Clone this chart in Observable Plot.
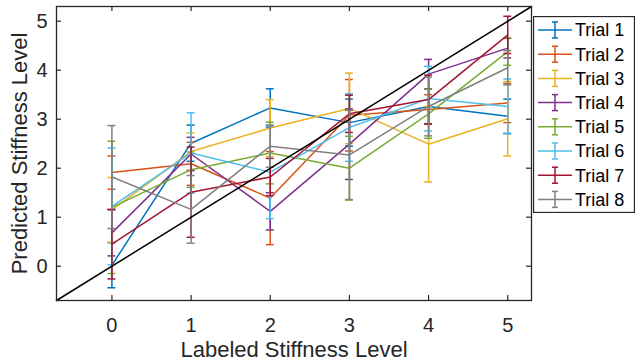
<!DOCTYPE html>
<html><head><meta charset="utf-8">
<script src="https://cdn.jsdelivr.net/npm/d3@7"></script>
<script src="https://cdn.jsdelivr.net/npm/@observablehq/plot@0.6"></script>
<style>
body{margin:0;background:#fff;}
#wrap{position:relative;width:641px;height:360px;font-family:"Liberation Sans",Arial,sans-serif;}
#legend{position:absolute;left:533px;top:16px;}
</style></head><body><div id="wrap"></div>
<script>
// ---- data ----
const levels = [0, 1, 2, 3, 4, 5];
const tickLabels = ["0", "1", "2", "3", "4", "5"];
const trials = ["Trial 1","Trial 2","Trial 3","Trial 4","Trial 5","Trial 6","Trial 7","Trial 8"];
const colors = ["#0072BD","#D95319","#EDB120","#7E2F8E","#77AC30","#4DBEEE","#A2142F","#808080"];
const means = [
  [0.02, 2.51, 3.23, 2.93, 3.26, 3.06],
  [1.91, 2.09, 1.39, 3.08, 3.20, 3.33],
  [1.15, 2.34, 2.82, 3.22, 2.49, 3.01],
  [0.68, 2.29, 1.12, 2.49, 3.92, 4.45],
  [1.20, 1.97, 2.31, 2.00, 3.11, 4.38],
  [1.22, 2.31, 1.92, 2.83, 3.42, 3.26],
  [0.45, 1.51, 1.82, 3.11, 3.40, 4.72],
  [1.82, 1.16, 2.45, 2.27, 3.26, 4.05]
];
const errors = [
  [0.46, 0.37, 0.39, 0.48, 0.35, 0.35],
  [0.34, 0.44, 0.95, 0.73, 0.30, 0.40],
  [0.66, 0.38, 0.58, 0.72, 0.77, 0.76],
  [0.47, 0.34, 0.38, 0.72, 0.30, 0.20],
  [1.35, 0.36, 0.63, 0.65, 0.50, 0.28],
  [1.19, 0.82, 0.95, 0.69, 0.66, 0.56],
  [0.71, 0.92, 0.38, 0.38, 0.50, 0.38],
  [1.05, 0.69, 0.43, 0.91, 0.60, 0.35]
];
const diag = [-0.7, 5.3];
const xLabel = "Labeled Stiffness Level";
const yLabel = "Predicted Stiffness Level";

// ---- layout ----
const W = 641, H = 360;
const mL = 56, mR = 110, mT = 6, mB = 60;
const plotW = W - mL - mR, plotH = H - mT - mB;
const capHalf = 0.05;
const ink = "#262626";
const sw = 1.5;

const rows = trials.map((t, i) => levels.map((x, j) => ({trial: t, x, y: means[i][j], e: errors[i][j]})));

const trialMarks = rows.flatMap((r) => [
  Plot.ruleX(r, {x: "x", y1: d => d.y - d.e, y2: d => d.y + d.e, stroke: "trial", strokeWidth: sw}),
  Plot.ruleY(r, {y: d => d.y - d.e, x1: d => d.x - capHalf, x2: d => d.x + capHalf, stroke: "trial", strokeWidth: sw}),
  Plot.ruleY(r, {y: d => d.y + d.e, x1: d => d.x - capHalf, x2: d => d.x + capHalf, stroke: "trial", strokeWidth: sw}),
  Plot.line(r, {x: "x", y: "y", stroke: "trial", strokeWidth: sw})
]);

const fmt = d => tickLabels[levels.indexOf(d)];

const chart = Plot.plot({
  width: W, height: H,
  marginLeft: mL, marginRight: mR, marginTop: mT, marginBottom: mB,
  style: {fontFamily: "'Liberation Sans', Arial, sans-serif", color: ink, background: "white"},
  x: {domain: [-0.7, 5.3]},
  y: {domain: [-0.7, 5.3]},
  color: {domain: trials, range: colors},
  marks: [
    ...trialMarks,
    Plot.line(diag, {x: d => d, y: d => d, stroke: "black", strokeWidth: sw}),
    Plot.frame({stroke: ink, strokeWidth: 1.3}),
    Plot.tickX(levels, {x: d => d, insetTop: plotH - 5, stroke: ink, strokeWidth: 1.2}),
    Plot.tickX(levels, {x: d => d, insetBottom: plotH - 5, stroke: ink, strokeWidth: 1.2}),
    Plot.tickY(levels, {y: d => d, insetRight: plotW - 5, stroke: ink, strokeWidth: 1.2}),
    Plot.tickY(levels, {y: d => d, insetLeft: plotW - 5, stroke: ink, strokeWidth: 1.2}),
    Plot.axisX({ticks: levels, tickFormat: fmt, tickSize: 0, tickPadding: 17, fontSize: 20, label: null}),
    Plot.axisY({ticks: levels, tickFormat: fmt, tickSize: 0, tickPadding: 9, fontSize: 20, label: null}),
    Plot.axisX({ticks: [], tickSize: 0, fontSize: 22, label: xLabel, labelAnchor: "center", labelOffset: 56, labelArrow: "none"}),
    Plot.axisY({ticks: [], tickSize: 0, fontSize: 22, label: yLabel, labelAnchor: "center", labelOffset: 45, labelArrow: "none"})
  ]
});
const wrap = document.getElementById("wrap");
wrap.appendChild(chart);

// ---- legend ----
const LW = 101, LH = 196, rowH = 24.2, firstY = 14;
const leg = d3.create("svg").attr("id", "legend").attr("width", LW + 1).attr("height", LH + 1);
leg.append("rect").attr("x", 0.5).attr("y", 0.5).attr("width", LW).attr("height", LH)
  .attr("fill", "white").attr("stroke", ink).attr("stroke-width", 1.3);
trials.forEach((t, i) => {
  const cy = firstY + i * rowH;
  const g = leg.append("g").attr("stroke", colors[i]).attr("stroke-width", sw);
  g.append("line").attr("x1", 5).attr("x2", 39).attr("y1", cy).attr("y2", cy);
  g.append("line").attr("x1", 22).attr("x2", 22).attr("y1", cy - 8).attr("y2", cy + 8);
  g.append("line").attr("x1", 19).attr("x2", 25).attr("y1", cy - 8).attr("y2", cy - 8);
  g.append("line").attr("x1", 19).attr("x2", 25).attr("y1", cy + 8).attr("y2", cy + 8);
  leg.append("text").attr("x", 42).attr("y", cy).attr("dy", "0.35em")
    .attr("font-size", 18).attr("fill", "#000").attr("font-family", "'Liberation Sans', Arial, sans-serif")
    .text(t);
});
wrap.appendChild(leg.node());
</script></body></html>
